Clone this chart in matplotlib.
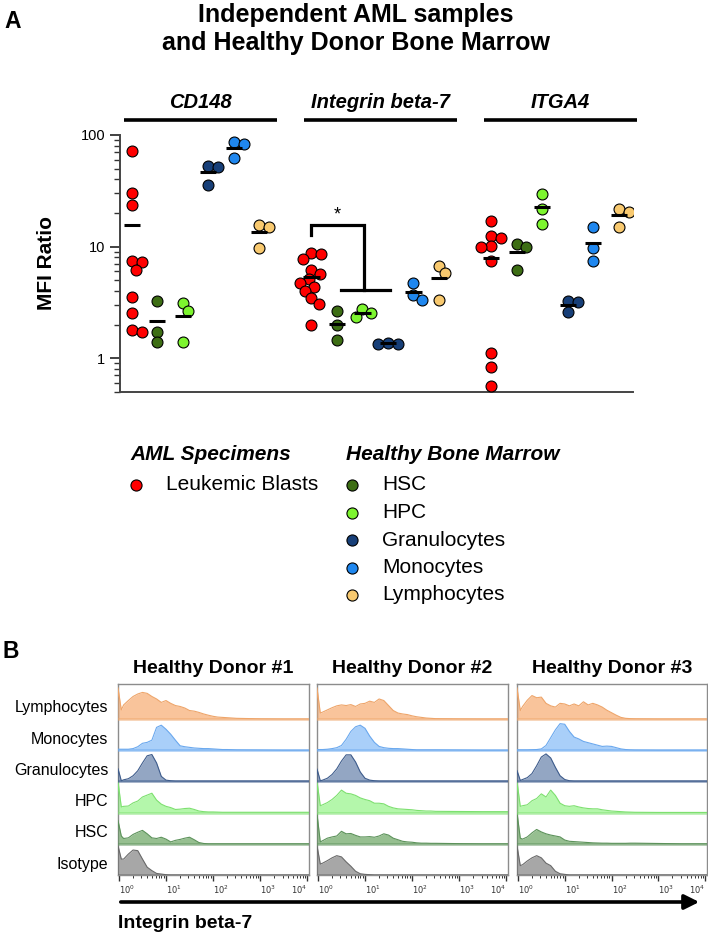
import numpy as np
import matplotlib
matplotlib.use("Agg")
import matplotlib.pyplot as plt
import matplotlib.transforms as mtransforms
from matplotlib.lines import Line2D
from matplotlib.ticker import NullFormatter, LogLocator

plt.rcParams['font.family'] = ['Liberation Sans', 'DejaVu Sans']

W, H = 708, 935

# ---------------- panel A data (MFI ratio) ----------------
genes = ["CD148", "Integrin beta-7", "ITGA4"]
populations = ["Leukemic Blasts", "HSC", "HPC", "Granulocytes", "Monocytes", "Lymphocytes"]
pop_colors = ["#ff0000", "#3d6e14", "#7df52f", "#173f78", "#1f87ef", "#f8c96f"]

cd148 = {
    "Leukemic Blasts": [71.9, 30.5, 23.5, 7.4, 7.2, 6.2, 3.5, 2.55, 1.79, 1.70],
    "HSC": [3.28, 1.73, 1.39],
    "HPC": [3.15, 2.65, 1.39],
    "Granulocytes": [53.1, 51.3, 35.9],
    "Monocytes": [86.0, 82.5, 62.7],
    "Lymphocytes": [15.6, 15.1, 9.76],
}
itgb7 = {
    "Leukemic Blasts": [8.7, 8.6, 7.78, 6.15, 5.63, 5.08, 4.74, 4.31, 4.02, 3.43, 3.05, 1.98],
    "HSC": [2.64, 1.98, 1.46],
    "HPC": [2.73, 2.55, 2.35],
    "Granulocytes": [1.38, 1.35, 1.33],
    "Monocytes": [4.74, 3.65, 3.31],
    "Lymphocytes": [6.69, 5.75, 3.31],
}
itga4 = {
    "Leukemic Blasts": [16.9, 12.5, 12.0, 10.1, 9.96, 7.41, 1.12, 0.83, 0.56],
    "HSC": [10.5, 9.96, 6.15],
    "HPC": [29.8, 21.5, 16.0],
    "Granulocytes": [3.27, 3.16, 2.57],
    "Monocytes": [15.1, 9.76, 7.41],
    "Lymphocytes": [21.5, 20.5, 15.0],
}
gene_data = [cd148, itgb7, itga4]

# ---------------- panel B data (histograms, normalised to mode) ----------------
hist_log_x = [-0.02, 0.05, 0.1, 0.2, 0.3, 0.4, 0.5, 0.6, 0.7, 0.8, 0.9, 1.0, 1.1, 1.2,
              1.3, 1.4, 1.5, 1.6, 1.7, 1.8, 1.9, 2.0, 2.1, 2.2, 2.3, 2.4, 2.5, 3.0, 3.5, 4.03]
hist_rows = ["Isotype", "HSC", "HPC", "Granulocytes", "Monocytes", "Lymphocytes"]
hist_fill = {"Isotype": "#a7a7a7", "HSC": "#96bf90", "HPC": "#b4f7ab",
             "Granulocytes": "#93a6c3", "Monocytes": "#a9cff9", "Lymphocytes": "#f9c49b"}
hist_edge = {"Isotype": "#6a6a6a", "HSC": "#5c925a", "HPC": "#7de06f",
             "Granulocytes": "#3e5c8c", "Monocytes": "#6aa8ee", "Lymphocytes": "#eea56a"}

donor1 = {
    "Lymphocytes": [1.0, 0.29, 0.45, 0.59, 0.72, 0.80, 0.85, 0.82, 0.72, 0.64, 0.53, 0.59, 0.50, 0.43,
                    0.40, 0.35, 0.27, 0.25, 0.21, 0.16, 0.12, 0.085, 0.06, 0.05, 0.04, 0.03, 0.02, 0.005, 0, 0],
    "Monocytes": [0.03, 0.03, 0.03, 0.03, 0.05, 0.11, 0.22, 0.25, 0.32, 0.73, 0.80, 0.67, 0.51, 0.32,
                  0.14, 0.11, 0.09, 0.07, 0.06, 0.05, 0.05, 0.04, 0.03, 0.02, 0.02, 0.015, 0.01, 0.005, 0, 0],
    "Granulocytes": [0.41, 0.02, 0.05, 0.085, 0.18, 0.34, 0.59, 0.82, 0.86, 0.59, 0.16, 0.04, 0.02, 0.01,
                     0.01, 0.01, 0.01, 0.01, 0.01, 0.01, 0.01, 0.01, 0.01, 0.01, 0.01, 0.01, 0.01, 0.01, 0.01, 0.01],
    "HPC": [1.0, 0.18, 0.20, 0.21, 0.31, 0.37, 0.50, 0.56, 0.62, 0.40, 0.27, 0.20, 0.16, 0.10,
            0.11, 0.13, 0.14, 0.10, 0.05, 0.03, 0.02, 0.02, 0.015, 0.01, 0.01, 0.01, 0.01, 0.01, 0.01, 0.01],
    "HSC": [0.75, 0.25, 0.17, 0.19, 0.30, 0.37, 0.43, 0.32, 0.19, 0.17, 0.21, 0.15, 0.06, 0.11,
            0.14, 0.18, 0.21, 0.13, 0.04, 0.01, 0, 0, 0, 0, 0, 0, 0, 0, 0, 0],
    "Isotype": [0.94, 0.51, 0.51, 0.67, 0.80, 0.78, 0.51, 0.25, 0.14, 0.05, 0.03, 0.01, 0, 0,
                0, 0, 0, 0, 0, 0, 0, 0, 0, 0, 0, 0, 0, 0, 0, 0],
}
donor2 = {
    "Lymphocytes": [1.0, 0.19, 0.22, 0.29, 0.36, 0.42, 0.45, 0.43, 0.46, 0.40, 0.48, 0.50, 0.57, 0.53,
                    0.64, 0.59, 0.43, 0.27, 0.19, 0.16, 0.14, 0.10, 0.07, 0.05, 0.03, 0.02, 0.01, 0.003, 0, 0],
    "Monocytes": [0.02, 0.02, 0.02, 0.03, 0.05, 0.08, 0.15, 0.35, 0.60, 0.75, 0.80, 0.70, 0.45, 0.25,
                  0.12, 0.08, 0.06, 0.05, 0.05, 0.04, 0.03, 0.02, 0.01, 0.01, 0.01, 0.01, 0.01, 0.005, 0, 0],
    "Granulocytes": [0.40, 0.02, 0.04, 0.10, 0.22, 0.40, 0.65, 0.85, 0.85, 0.62, 0.30, 0.10, 0.04, 0.02,
                     0.01, 0.01, 0.01, 0.01, 0.01, 0.01, 0.01, 0.01, 0.01, 0.01, 0.01, 0.01, 0.01, 0.01, 0.01, 0.01],
    "HPC": [1.0, 0.22, 0.25, 0.32, 0.42, 0.55, 0.72, 0.62, 0.60, 0.55, 0.47, 0.42, 0.38, 0.30,
            0.30, 0.28, 0.20, 0.15, 0.12, 0.11, 0.10, 0.09, 0.07, 0.06, 0.05, 0.05, 0.04, 0.035, 0.03, 0.03],
    "HSC": [0.96, 0.06, 0.10, 0.18, 0.22, 0.25, 0.40, 0.32, 0.33, 0.27, 0.22, 0.22, 0.23, 0.21,
            0.25, 0.32, 0.28, 0.18, 0.13, 0.08, 0.06, 0.05, 0.03, 0.02, 0.02, 0.015, 0.015, 0.005, 0, 0],
    "Isotype": [0.94, 0.35, 0.38, 0.46, 0.55, 0.62, 0.58, 0.42, 0.28, 0.12, 0.04, 0.02, 0.01, 0,
                0, 0, 0, 0, 0, 0, 0, 0, 0, 0, 0, 0, 0, 0, 0, 0],
}
donor3 = {
    "Lymphocytes": [1.0, 0.27, 0.40, 0.60, 0.75, 0.68, 0.70, 0.50, 0.42, 0.38, 0.50, 0.48, 0.42, 0.48,
                    0.42, 0.55, 0.45, 0.50, 0.45, 0.38, 0.28, 0.20, 0.12, 0.05, 0.02, 0.01, 0.005, 0, 0, 0],
    "Monocytes": [0.01, 0.01, 0.01, 0.01, 0.015, 0.02, 0.04, 0.15, 0.40, 0.65, 0.85, 0.83, 0.60, 0.42,
                  0.36, 0.28, 0.24, 0.20, 0.16, 0.12, 0.13, 0.12, 0.08, 0.04, 0.02, 0.01, 0.005, 0, 0, 0],
    "Granulocytes": [0.35, 0.03, 0.06, 0.12, 0.25, 0.50, 0.78, 0.88, 0.75, 0.45, 0.18, 0.06, 0.02, 0.01,
                     0.01, 0.01, 0.01, 0.01, 0.01, 0.01, 0.01, 0.01, 0.01, 0.01, 0.01, 0.01, 0.01, 0.01, 0.01, 0.01],
    "HPC": [1.0, 0.20, 0.22, 0.25, 0.38, 0.45, 0.60, 0.50, 0.72, 0.55, 0.30, 0.22, 0.20, 0.22,
            0.18, 0.15, 0.13, 0.12, 0.12, 0.09, 0.07, 0.05, 0.04, 0.03, 0.02, 0.015, 0.01, 0.005, 0.005, 0.005],
    "HSC": [1.0, 0.18, 0.15, 0.22, 0.35, 0.46, 0.38, 0.32, 0.28, 0.25, 0.22, 0.12, 0.08, 0.07,
            0.06, 0.05, 0.04, 0.03, 0.025, 0.02, 0.02, 0.015, 0.015, 0.015, 0.015, 0.02, 0.02, 0.01, 0, 0],
    "Isotype": [0.94, 0.30, 0.33, 0.45, 0.55, 0.62, 0.55, 0.38, 0.30, 0.12, 0.04, 0.02, 0, 0,
                0, 0, 0, 0, 0, 0, 0, 0, 0, 0, 0, 0, 0, 0, 0, 0],
}
donors = [donor1, donor2, donor3]
donor_titles = ["Healthy Donor #1", "Healthy Donor #2", "Healthy Donor #3"]


def px_axes(fig, left, top, right, bottom):
    return fig.add_axes([left / W, 1 - bottom / H, (right - left) / W, (bottom - top) / H])


def fx(x):
    return x / W


def fy(y):
    return 1 - y / H


def swarm(values, x_unit, decade, d=11.0):
    # simple beeswarm in pixel space, some overlap allowed like the original
    ys = np.log10(values) * decade
    placed = []
    offs = []
    for y in ys:
        for step in range(0, 60):
            o = (step + 1) // 2 * (1 if step % 2 else -1)
            if all((o - po) ** 2 + (y - py) ** 2 >= (0.85 * d) ** 2 for po, py in placed):
                break
        placed.append((o, y))
        offs.append(o / x_unit)
    return np.array(offs)


fig = plt.figure(figsize=(W / 100, H / 100), dpi=100)

# ---------------- panel A ----------------
axA = px_axes(fig, 120, 135, 633, 391.7)
group_gap = 7.05
x_unit = 513 / (19.66 + 0.46)
decade = 256.7 / np.log10(100 / 0.5)
for g, data in enumerate(gene_data):
    for j, pop in enumerate(populations):
        vals = np.array(data[pop])
        x0 = g * group_gap + j
        xs = x0 + swarm(vals, x_unit, decade)
        axA.scatter(xs, vals, s=62, color=pop_colors[j], edgecolor="black", linewidth=0.8, zorder=3)
        axA.hlines(vals.mean(), x0 - 0.32, x0 + 0.32, color="black", lw=2.2, zorder=4)

axA.set_yscale("log")
axA.set_ylim(0.5, 100)
axA.set_xlim(-0.46, 19.66)
axA.set_yticks([1, 10, 100])
axA.set_yticklabels(["1", "10", "100"])
axA.yaxis.set_minor_locator(LogLocator(base=10, subs=np.arange(2, 10)))
axA.yaxis.set_minor_formatter(NullFormatter())
axA.tick_params(axis="y", which="major", length=7, width=1.3, labelsize=10.5, color="#333333")
axA.tick_params(axis="y", which="minor", length=4, width=1.0, color="#333333")
axA.set_xticks([])
for s in ["top", "right"]:
    axA.spines[s].set_visible(False)
for s in ["left", "bottom"]:
    axA.spines[s].set_linewidth(1.4)
    axA.spines[s].set_color("#444444")
axA.set_ylabel("MFI Ratio", fontsize=15, fontweight="bold", labelpad=18)

blend = mtransforms.blended_transform_factory(axA.transData, axA.transAxes)
for g, name in enumerate(genes):
    start, end = g * group_gap - 0.3, g * group_gap + 5.7
    axA.plot([start, end], [1.058, 1.058], color="black", lw=2.6, transform=blend, clip_on=False,
             solid_capstyle="butt")
    axA.text((start + end) / 2, 1.125, name, transform=blend, ha="center", va="center",
             fontsize=14.5, fontweight="bold", style="italic")

# significance bracket: blasts vs healthy (Integrin beta-7)
bx = group_gap
axA.plot([bx, bx, bx + 2.05, bx + 2.05], [12.7, 15.6, 15.6, 4.08], color="black", lw=2.3,
         solid_joinstyle="miter", zorder=2)
axA.plot([bx + 1.15, bx + 3.07], [4.08, 4.08], color="black", lw=2.3, zorder=2)
axA.text(bx + 1.02, 16.2, "*", ha="center", va="bottom", fontsize=13)

# legend, laid out as two columns with headers
legend_cols = [("AML Specimens", populations[:1], pop_colors[:1], 130),
               ("Healthy Bone Marrow", populations[1:], pop_colors[1:], 346)]
for header, labels, colors, x in legend_cols:
    fig.text(fx(x), fy(455), header, fontsize=15, fontweight="bold", style="italic", va="center")
    for i, (lab, c) in enumerate(zip(labels, colors)):
        y = 485 + 27.5 * i
        fig.add_artist(Line2D([fx(x + 6)], [fy(y)], transform=fig.transFigure, ls="none", marker="o",
                              ms=8, mfc=c, mec="black", mew=0.8))
        fig.text(fx(x + 36), fy(y), lab, fontsize=15, va="center")

# ---------------- panel B ----------------
panel_edges = [(118, 309), (317, 508), (517, 707)]
xgrid = 10 ** np.array(hist_log_x)
for d, (donor, (l, r)) in enumerate(zip(donors, panel_edges)):
    ax = px_axes(fig, l, 684, r, 875)
    for k, pop in enumerate(hist_rows):
        vals = np.array(donor[pop])
        xs = np.concatenate([[xgrid[0]], xgrid])
        ys = np.concatenate([[k], k + vals])
        ax.fill_between(xs, k, ys, color=hist_fill[pop], lw=0, zorder=2)
        ax.plot(xs, ys, color=hist_edge[pop], lw=0.8, zorder=3)
        ax.axhline(k, color=hist_edge[pop], lw=1.8, alpha=0.6, zorder=3)
    ax.set_xscale("log")
    ax.set_xlim(10 ** -0.02, 10 ** 4.04)
    ax.set_ylim(0, 6.12)
    ax.set_xticks([1, 10, 100, 1000, 10000])
    ax.set_xticklabels([r"$10^{0}$", r"$10^{1}$", r"$10^{2}$", r"$10^{3}$", r"$10^{4}$"])
    for i, lab in enumerate(ax.get_xticklabels()):
        lab.set_ha("left" if i < 4 else "right")
    ax.xaxis.set_minor_locator(LogLocator(base=10, subs=np.arange(2, 10)))
    ax.xaxis.set_minor_formatter(NullFormatter())
    ax.tick_params(axis="x", which="major", length=4, width=1.0, labelsize=6, color="#333333",
                   labelcolor="#333333", pad=2)
    ax.tick_params(axis="x", which="minor", length=2, width=0.7, color="#333333")
    if d == 0:
        ax.set_yticks([k + 0.4 for k in range(len(hist_rows))])
        ax.set_yticklabels(hist_rows, fontsize=11.5)
        ax.tick_params(axis="y", length=0, pad=7)
    else:
        ax.set_yticks([])
    for s in ax.spines.values():
        s.set_color("#8c8c8c")
        s.set_linewidth(1.0)
    ax.set_title(donor_titles[d], fontsize=14, fontweight="bold", pad=8)

fig.add_artist(matplotlib.patches.FancyArrowPatch((fx(118), fy(902)), (fx(702), fy(902)),
                                                  transform=fig.transFigure, arrowstyle="-|>",
                                                  mutation_scale=22, lw=2.6, color="black"))
fig.text(fx(118), fy(923), "Integrin beta-7", fontsize=14, fontweight="bold", va="center")

# titles / panel letters
fig.text(fx(356), fy(29), "Independent AML samples\nand Healthy Donor Bone Marrow",
         ha="center", va="center", fontsize=18, fontweight="bold", linespacing=1.2)
fig.text(fx(4), fy(22), "A", fontsize=16.5, fontweight="bold", va="center")
fig.text(fx(3), fy(652), "B", fontsize=16.5, fontweight="bold", va="center")

fig.savefig("out.png", dpi=100)
